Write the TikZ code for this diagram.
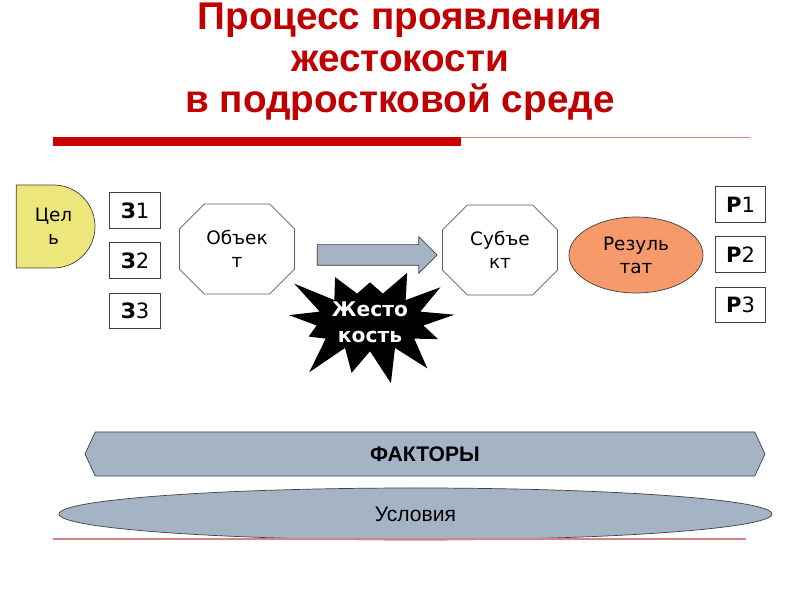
\documentclass[tikz,border=0pt]{standalone}
\usepackage{fontspec}
\setmainfont{DejaVu Sans}
\newfontfamily\titlefont{Liberation Sans}
\usetikzlibrary{shapes.geometric,shapes.misc,shapes.arrows,shapes.symbols}
\definecolor{titlered}{HTML}{C00000}
\definecolor{barred}{HTML}{CC0000}
\definecolor{linered}{HTML}{D98282}
\definecolor{goalcol}{HTML}{EDE67B}
\definecolor{rescol}{HTML}{F79A6B}
\definecolor{greycol}{HTML}{A5B4C4}
\definecolor{edgecol}{HTML}{404040}

\begin{document}
\begin{tikzpicture}[
  x=0.2mm, y=-0.2mm,
  titletext/.style={font=\titlefont\fontsize{22}{23.5}\selectfont\bfseries, text=titlered, align=center},
  goalnode/.style={draw=edgecol, fill=goalcol, rounded rectangle, rounded rectangle left arc=none,
                   minimum width=15.4mm, minimum height=16.6mm, inner sep=0pt,
                   align=center, font=\fontsize{10.5}{13}\selectfont},
  letterbox/.style={draw=edgecol, fill=white, minimum width=10.1mm, minimum height=7.1mm,
                    inner sep=0pt, font=\fontsize{12}{14}\selectfont},
  octnode/.style={draw=edgecol!85, chamfered rectangle, chamfered rectangle xsep=5mm,
                  minimum width=23mm, minimum height=18mm, inner sep=0pt,
                  align=center, font=\fontsize{10.5}{13}\selectfont},
  resnode/.style={draw=edgecol, fill=rescol, ellipse, minimum width=26.8mm, minimum height=15.2mm,
                  inner sep=0pt, align=center, font=\fontsize{10.5}{13}\selectfont},
  blockarr/.style={draw=edgecol, fill=greycol, single arrow, single arrow head extend=1.6mm,
                   minimum height=24mm, inner sep=2mm},
  burst/.style={fill=black, starburst, starburst points=13, starburst point height=8mm,
                random starburst=23, minimum width=36mm, minimum height=27mm, inner sep=0pt,
                text=white, align=center, font=\fontsize{11.5}{15}\selectfont\bfseries},
  bandnode/.style={draw=edgecol, fill=greycol, signal, signal to=east and west, signal pointer angle=130,
                   minimum width=136mm, minimum height=8.8mm, inner sep=0pt,
                   font=\titlefont\fontsize{12}{14}\selectfont\bfseries},
  condnode/.style={draw=edgecol, fill=greycol, ellipse, minimum width=142.6mm, minimum height=10.4mm,
                   inner sep=0pt, font=\titlefont\fontsize{12}{14}\selectfont},
]
\useasboundingbox (0,0) rectangle (800,600);

% title and rules
\node[titletext] (title) at (400,62) {Процесс проявления\\жестокости\\в подростковой среде};
\fill[barred] (53,137) rectangle (461,146);
\draw[linered, line width=0.8pt] (461,137.5) -- (750,137.5);

% goal and its tasks
\node[goalnode] (CEL) at (53.5,226.5) {Цел\\ь};
\foreach \k/\ypos in {1/210.5, 2/260.5, 3/311}{
  \node[letterbox] (Z\k) at (135,\ypos) {\textbf{З}\k};
}

% object -> subject
\node[octnode] (OBJ) at (237,249) {Объек\\т};
\node[blockarr] (ARR) at (372,255) {};
\node[octnode] (SUBJ) at (500,250) {Субъе\\кт};
\node[burst] (ZHEST) at (370,322) {Жесто\\кость};

% result and its parts
\node[resnode] (RES) at (636,255) {Резуль\\тат};
\foreach \k/\ypos in {1/204.5, 2/254.5, 3/305}{
  \node[letterbox] (R\k) at (740.5,\ypos) {\textbf{Р}\k};
}

% factors and conditions
\node[bandnode] (FAKT) at (425,454) {ФАКТОРЫ};
\node[condnode] (USL) at (415.5,514) {Условия};
\draw[linered, line width=1.5pt] (53,539) -- (746,539);

\end{tikzpicture}
\end{document}
